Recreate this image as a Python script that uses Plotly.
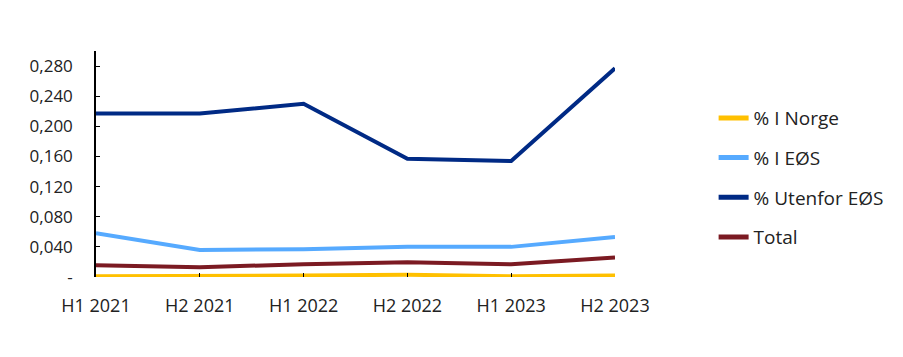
import plotly.graph_objects as go

periods = ["H1 2021", "H2 2021", "H1 2022", "H2 2022", "H1 2023", "H2 2023"]
norge = [0.001, 0.001, 0.002, 0.003, 0.001, 0.002]
eos = [0.058, 0.036, 0.037, 0.040, 0.040, 0.053]
utenfor = [0.217, 0.217, 0.230, 0.157, 0.154, 0.277]
total = [0.0155, 0.013, 0.017, 0.0195, 0.017, 0.026]

y_tickvals = [0, 0.04, 0.08, 0.12, 0.16, 0.20, 0.24, 0.28]
y_ticktext = ["-", "0,040", "0,080", "0,120", "0,160", "0,200", "0,240", "0,280"]

series = [
    ("% I Norge", norge, "#FFC000"),
    ("% I EØS", eos, "#56AAFF"),
    ("% Utenfor EØS", utenfor, "#002A85"),
    ("Total", total, "#7B1A22"),
]

fig = go.Figure()
for name, vals, color in series:
    fig.add_trace(go.Scatter(x=periods, y=vals, name=name, mode="lines",
                             legendgroup=name,
                             line=dict(color=color, width=4)))

fig.update_layout(
    width=903, height=357,
    margin=dict(l=88, r=296, t=43, b=88),
    paper_bgcolor="white", plot_bgcolor="white",
    font=dict(family="Open Sans", size=17, color="#222"),
    showlegend=True,
    legend=dict(x=1.19, y=0.44, xanchor="left", yanchor="middle",
                tracegroupgap=12, itemsizing="constant",
                font=dict(size=19)),
    xaxis=dict(range=[0, 5], showgrid=False, zeroline=False, showline=False,
               ticks="inside", ticklen=4, tickcolor="black",
               ticklabelstandoff=16, tickfont=dict(size=18)),
    yaxis=dict(range=[0, 0.3], showgrid=False, zeroline=False,
               showline=True, linecolor="black", linewidth=1.5,
               tickvals=y_tickvals, ticktext=y_ticktext,
               ticks="inside", ticklen=4, tickcolor="black",
               ticklabelstandoff=18, tickfont=dict(size=17)),
)
fig.write_html("out.html")
